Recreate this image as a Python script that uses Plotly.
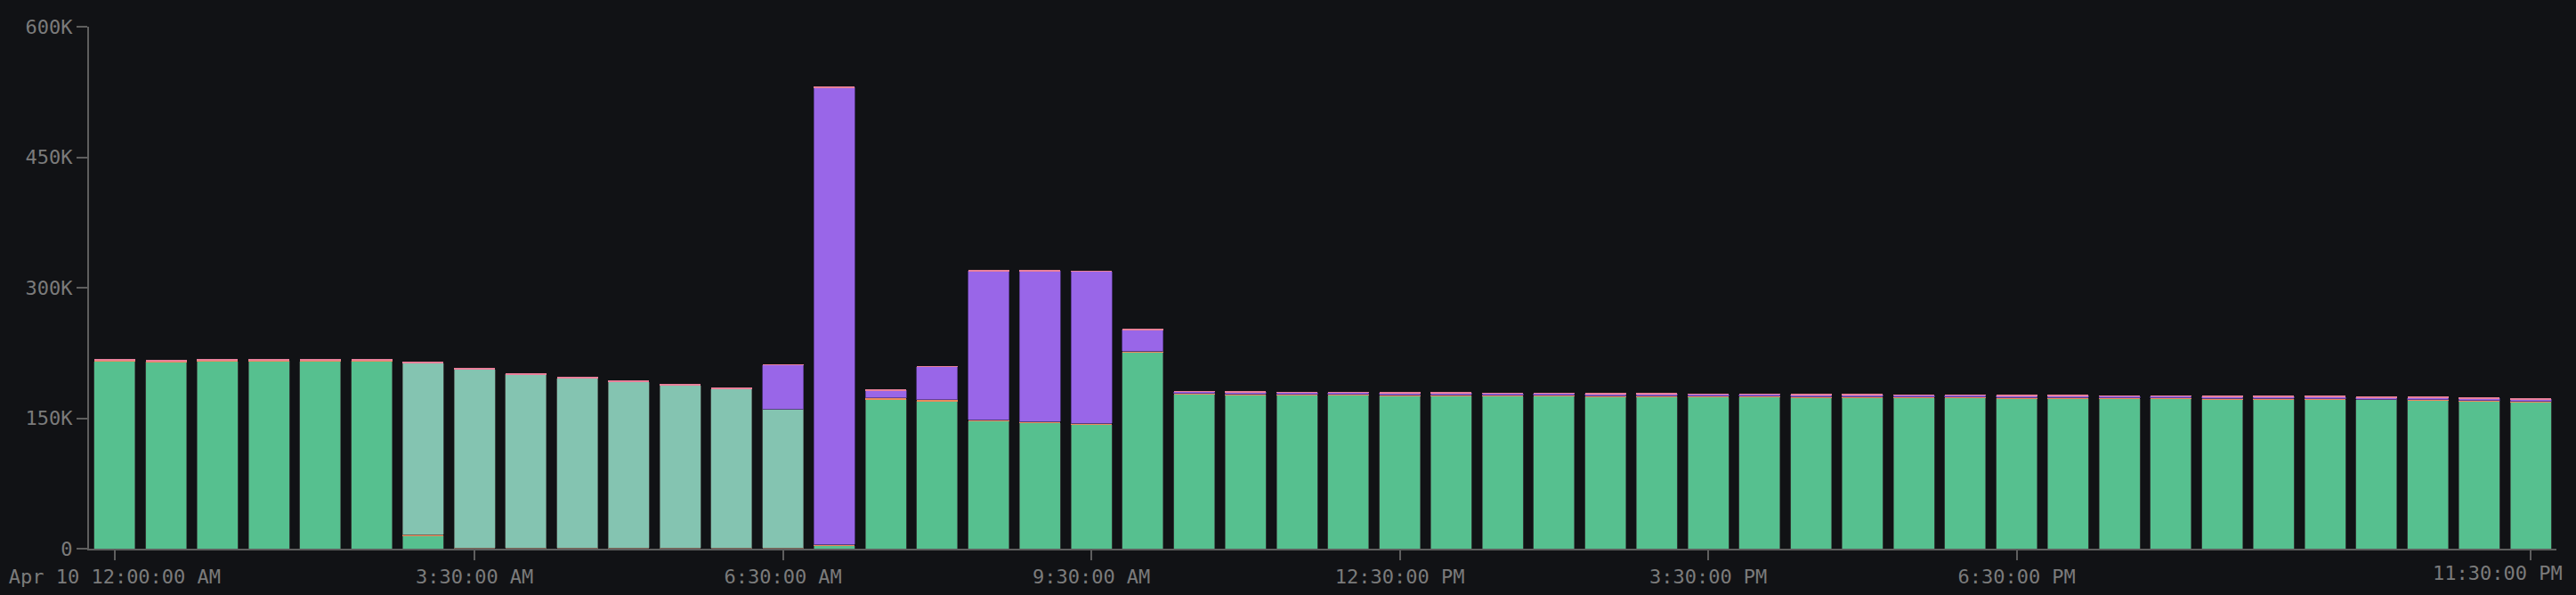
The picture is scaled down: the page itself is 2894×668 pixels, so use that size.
import pandas as pd
import plotly.graph_objects as go

# ---- data (values in thousands) ----
times = pd.date_range("2024-04-10 00:00", periods=48, freq="30min")

green = [215.5, 215.0, 215.5, 216.0, 215.5, 216.0, 15.3, 0, 0, 0, 0, 0, 0, 0,
         3.5, 172.0, 169.5, 146.5, 144.5, 142.5, 226.0,
         177.5, 177.0, 176.5, 176.5, 176.0, 176.0, 175.5, 175.5, 175.0, 175.0,
         174.5, 174.5, 174.0, 174.0, 173.5, 173.5, 173.0, 173.0, 172.5, 172.5,
         172.0, 172.0, 171.5, 171.0, 170.5, 169.5, 168.5]
orange = [0.8, 0.8, 0.8, 0.8, 0.8, 0.8, 1.0, 1.0, 1.0, 1.0, 1.0, 1.0, 1.0, 1.0,
          1.2, 1.5, 1.5, 1.5, 1.5, 1.5, 1.2,
          0.8, 0.8, 0.8, 0.8, 0.8, 0.8, 0.8, 0.8, 0.8, 0.8,
          0.8, 0.8, 0.8, 0.8, 0.8, 0.8, 0.8, 0.8, 0.8, 0.8,
          0.8, 0.8, 0.8, 0.8, 0.8, 0.8, 0.8]
lightgreen = [0, 0, 0, 0, 0, 0, 197.0, 205.0, 199.5, 195.0, 190.5, 186.5, 182.5, 159.5,
              0, 0, 0, 0, 0, 0, 0,
              0, 0, 0, 0, 0, 0, 0, 0, 0, 0,
              0, 0, 0, 0, 0, 0, 0, 0, 0, 0,
              0, 0, 0, 0, 0, 0, 0]
purple = [0, 0, 0, 0, 0, 0, 0, 0, 0, 0, 0, 0, 0, 50.5,
          525.5, 8.5, 38.0, 171.0, 173.0, 174.5, 24.5,
          2.0, 2.0, 2.0, 2.0, 2.0, 2.0, 2.0, 2.0, 2.0, 2.0,
          2.0, 2.0, 2.0, 2.0, 2.0, 2.0, 2.0, 2.0, 2.0, 2.0,
          2.0, 2.0, 2.2, 2.2, 2.2, 2.4, 2.4]
pink = [1.6, 1.6, 1.6, 1.6, 1.6, 1.6, 1.5, 1.5, 1.5, 1.5, 1.5, 1.5, 1.5, 0.5,
        0.5, 0.6, 0.6, 0.6, 0.6, 0.6, 0.6,
        0.6, 0.6, 0.6, 0.6, 0.6, 0.6, 0.6, 0.6, 0.6, 0.6,
        0.6, 0.6, 0.6, 0.6, 0.6, 0.6, 0.6, 0.6, 0.6, 0.6,
        0.6, 0.6, 0.6, 0.6, 0.6, 0.6, 0.6]

y_ticks = [0, 150, 300, 450, 600]
y_tick_text = ["0", "150K", "300K", "450K", "600K"]
x_tick_idx = [0, 7, 13, 19, 25, 31, 37, 47]
x_tick_text = ["Apr 10 12:00:00 AM", "3:30:00 AM", "6:30:00 AM", "9:30:00 AM",
               "12:30:00 PM", "3:30:00 PM", "6:30:00 PM", "11:30:00 PM"]

series = [
    ("green", green, "#56c08f", 0.8, "rgba(60,70,65,0.9)"),
    ("orange", orange, "#ec8a5c", 0, "rgba(0,0,0,0)"),
    ("lightgreen", lightgreen, "#84c4b1", 0.8, "rgba(80,90,86,0.9)"),
    ("purple", purple, "#9966e8", 0.8, "rgba(85,55,135,1)"),
    ("pink", pink, "#e9809a", 0, "rgba(0,0,0,0)"),
]

BG = "#111215"
TXT = "#7b7b7b"
AX = "#5e5e5e"
FONT = "DejaVu Sans Mono"

# the last tick label is drawn right-aligned so it stays inside the page
axis_labels = list(x_tick_text[:-1]) + [""]

fig = go.Figure()
for name, vals, col, lw, lc in series:
    fig.add_trace(go.Bar(
        x=times, y=[v * 1000 for v in vals], name=name,
        marker=dict(color=col, line=dict(width=lw, color=lc)),
    ))

fig.add_annotation(
    x=times[x_tick_idx[-1]], xref="x", y=0, yref="paper",
    text=x_tick_text[-1], showarrow=False,
    xanchor="right", yanchor="top", xshift=38, yshift=-13,
    font=dict(family=FONT, size=22, color=TXT),
)

half = pd.Timedelta(minutes=15)
fig.update_layout(
    barmode="stack", bargap=0.2,
    width=2894, height=668,
    margin=dict(l=100, r=22, t=30, b=52),
    paper_bgcolor=BG, plot_bgcolor=BG,
    showlegend=False,
    font=dict(family=FONT, size=22, color=TXT),
    xaxis=dict(
        type="date",
        range=[times[0] - half, times[-1] + half],
        tickvals=[times[i] for i in x_tick_idx], ticktext=axis_labels,
        ticks="outside", ticklen=11, tickcolor=AX, tickwidth=1.5,
        showline=True, linecolor=AX, linewidth=2,
        showgrid=False, zeroline=False, automargin=False,
        tickfont=dict(size=22, color=TXT),
    ),
    yaxis=dict(
        range=[0, 600000],
        tickvals=[v * 1000 for v in y_ticks], ticktext=y_tick_text,
        ticks="outside", ticklen=12, tickcolor=AX, tickwidth=1.5,
        showline=True, linecolor=AX, linewidth=2,
        showgrid=False, zeroline=False, automargin=False,
        tickfont=dict(size=22, color=TXT),
    ),
)

fig.write_html("out.html")
